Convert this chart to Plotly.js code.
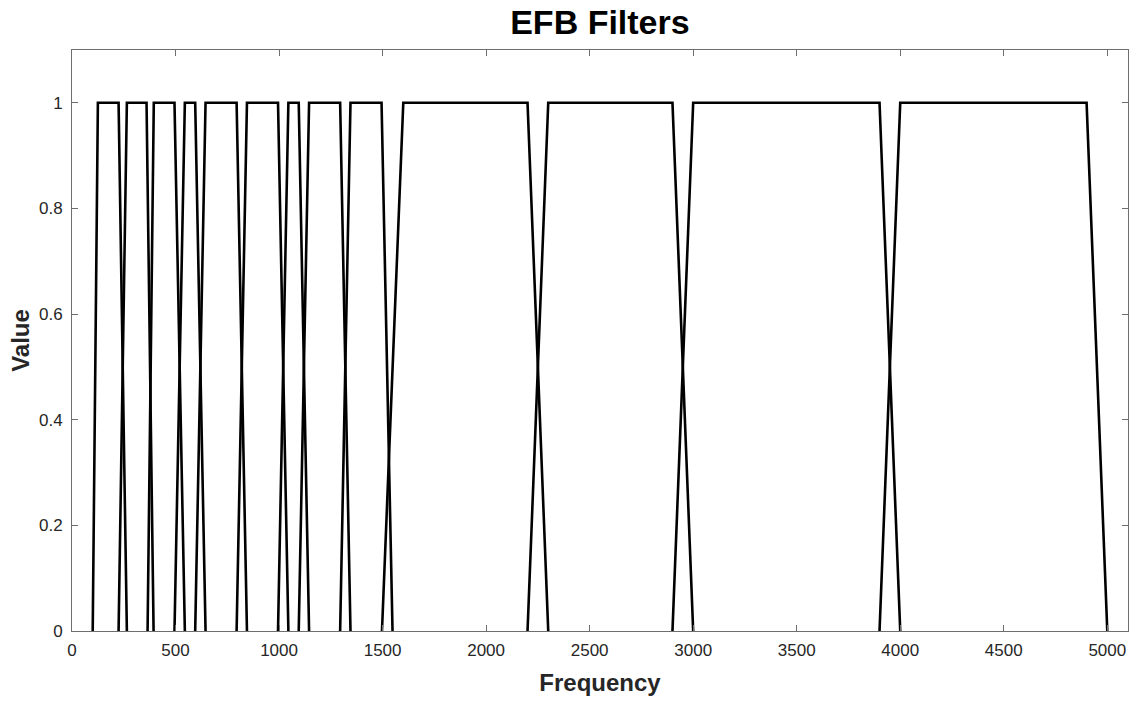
<!DOCTYPE html>
<html>
<head>
<meta charset="utf-8">
<script src="https://cdn.plot.ly/plotly-3.0.1.min.js"></script>
<style>html,body{margin:0;padding:0;background:#fff;}#chart{width:1141px;height:701px;}</style>
</head>
<body>
<div id="chart"></div>
<script>
// Trapezoidal filter edges (Hz)
const riseStart = [100, 225, 365, 495, 595, 795, 995, 1095, 1295, 1497, 2200, 2900, 3900];
const riseEnd   = [125, 265, 395, 545, 645, 845, 1045, 1145, 1345, 1600, 2300, 3000, 4000];
const fallStart = [225, 360, 495, 595, 795, 995, 1095, 1295, 1495, 2200, 2900, 3900, 4900];
const fallEnd   = [265, 394, 545, 645, 845, 1045, 1145, 1345, 1548, 2300, 3000, 4000, 5000];
const levels = [0, 1, 1, 0];
const xTicks = [0, 500, 1000, 1500, 2000, 2500, 3000, 3500, 4000, 4500, 5000];
const yTicks = [0, 0.2, 0.4, 0.6, 0.8, 1];
const yTickText = ['0', '0.2', '0.4', '0.6', '0.8', '1'];

const traces = riseStart.map((a, i) => ({
  type: 'scatter', mode: 'lines',
  x: [a, riseEnd[i], fallStart[i], fallEnd[i]],
  y: levels,
  line: {color: '#000000', width: 2.6},
  hoverinfo: 'skip', showlegend: false
}));

const FONT = 'Liberation Sans, Arial, sans-serif';
const axisCommon = {
  showline: true, mirror: 'ticks', linecolor: '#6e6e6e', linewidth: 1,
  ticks: 'inside', ticklen: 6, tickcolor: '#6e6e6e', tickwidth: 1,
  showgrid: false, zeroline: false,
  tickfont: {family: FONT, size: 17, color: '#262626'}
};

const layout = {
  width: 1141, height: 701,
  paper_bgcolor: '#ffffff', plot_bgcolor: '#ffffff',
  margin: {l: 72, r: 13, t: 50, b: 70},
  title: {text: '<b>EFB Filters</b>', x: 0.5258, xanchor: 'center', y: 0.969, yanchor: 'middle',
          font: {family: FONT, size: 34, color: '#000000'}},
  xaxis: Object.assign({}, axisCommon, {
    range: [0, 5100], tickvals: xTicks, ticktext: xTicks.map(String),
    ticklabelstandoff: 4,
    title: {text: '<b>Frequency</b>', standoff: 14,
            font: {family: FONT, size: 24, color: '#262626'}}
  }),
  yaxis: Object.assign({}, axisCommon, {
    range: [0, 1.1], tickvals: yTicks, ticktext: yTickText,
    ticklabelstandoff: 5,
    title: {text: '<b>Value</b>', standoff: 2,
            font: {family: FONT, size: 24, color: '#262626'}}
  })
};

Plotly.newPlot('chart', traces, layout, {displayModeBar: false, staticPlot: true});
</script>
</body>
</html>
